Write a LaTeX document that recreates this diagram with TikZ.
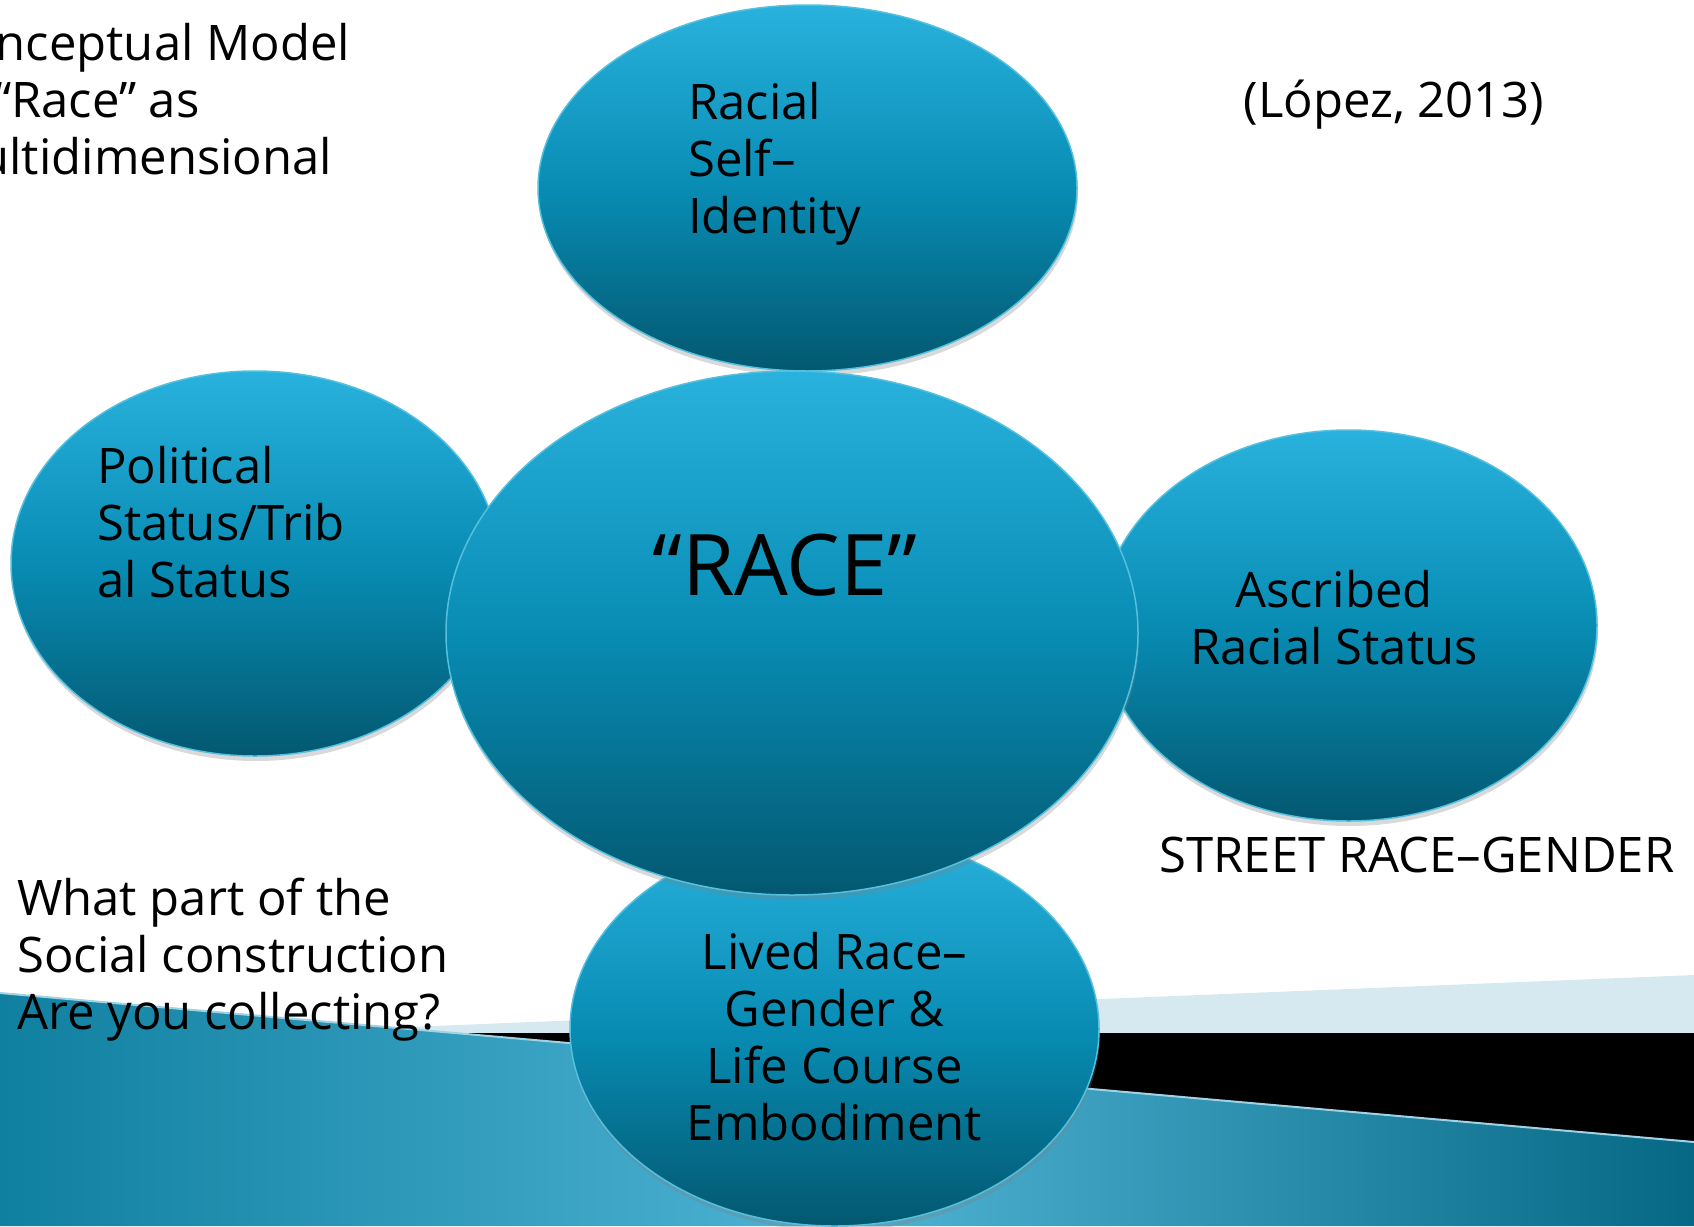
\documentclass[tikz,border=0pt]{standalone}
\usepackage{fontspec}
\setmainfont{Open Sans}
\usetikzlibrary{shapes.geometric,shadows}

\definecolor{balltop}{RGB}{41,178,221}
\definecolor{ballmid}{RGB}{8,140,180}
\definecolor{ballbot}{RGB}{3,88,112}
\definecolor{ballrim}{RGB}{84,192,222}
\definecolor{bandpale}{RGB}{214,233,240}
\definecolor{bandleft}{RGB}{16,128,160}
\definecolor{bandmid}{RGB}{80,180,214}
\definecolor{bandright}{RGB}{6,104,132}
\definecolor{bandrim}{RGB}{160,210,228}

\tikzset{
  ball/.style={ellipse, draw=ballrim, line width=1.5pt, inner sep=0pt,
    top color=balltop, bottom color=ballbot, middle color=ballmid,
    drop shadow={opacity=0.3, shadow xshift=1pt, shadow yshift=-5pt}},
  txt/.style={font=\fontsize{49}{57}\selectfont, inner sep=0pt},
}

\begin{document}
\begin{tikzpicture}[x=1pt,y=-1pt]
\useasboundingbox (0,0) rectangle (1694,1226);

\fill[bandpale] (260,1033) -- (1694,975) -- (1694,1033) -- cycle;
\fill[black] (380,1033) -- (1694,1033) -- (1694,1226) -- (380,1226) -- cycle;
\shade[left color=bandleft, right color=bandright, middle color=bandmid]
  (0,993) -- (1694,1142) -- (1694,1226) -- (0,1226) -- cycle;
\draw[bandrim, line width=2pt] (0,993) -- (1694,1142);

\node[ball, minimum width=529, minimum height=394] (lived) at (834.5,1029) {};
\node[ball, minimum width=539, minimum height=366] (self) at (807.5,188) {};
\node[ball, minimum width=488, minimum height=385] (pol) at (255,563.5) {};
\node[ball, minimum width=497, minimum height=391] (asc) at (1348.5,625.5) {};
\node[ball, minimum width=692, minimum height=524] (race) at (792,633) {};

\node[txt, anchor=base west, align=left] (selft) at ([shift={(-119.5,45)}]self.center) {Racial\\Self–\\Identity};
\node[txt, anchor=base west, align=left] (polt) at ([shift={(-158,33.5)}]pol.center) {Political\\Status/Trib\\al Status};
\node[txt, anchor=base, align=center] (asct) at ([shift={(-14.5,38.5)}]asc.center) {Ascribed\\Racial Status};
\node[txt, anchor=base, align=center] (livedt) at ([shift={(0,111)}]lived.center) {Lived Race–\\Gender \&\\Life Course\\Embodiment};
\node[font=\fontsize{85}{100}\selectfont, inner sep=0pt, anchor=base] (racet) at ([shift={(-7,-38)}]race.center) {“RACE”};

\node[txt, anchor=base west, align=left] (title) at (-65,174) {Conceptual Model\\of “Race” as\\Multidimensional};
\node[txt, anchor=base] (cite) at (1394,117) {(López, 2013)};
\node[txt, anchor=base] (street) at (1417,872) {STREET RACE–GENDER};
\node[txt, anchor=base west, align=left] (ask) at (17,1029) {What part of the\\Social construction\\Are you collecting?};

\end{tikzpicture}
\end{document}
